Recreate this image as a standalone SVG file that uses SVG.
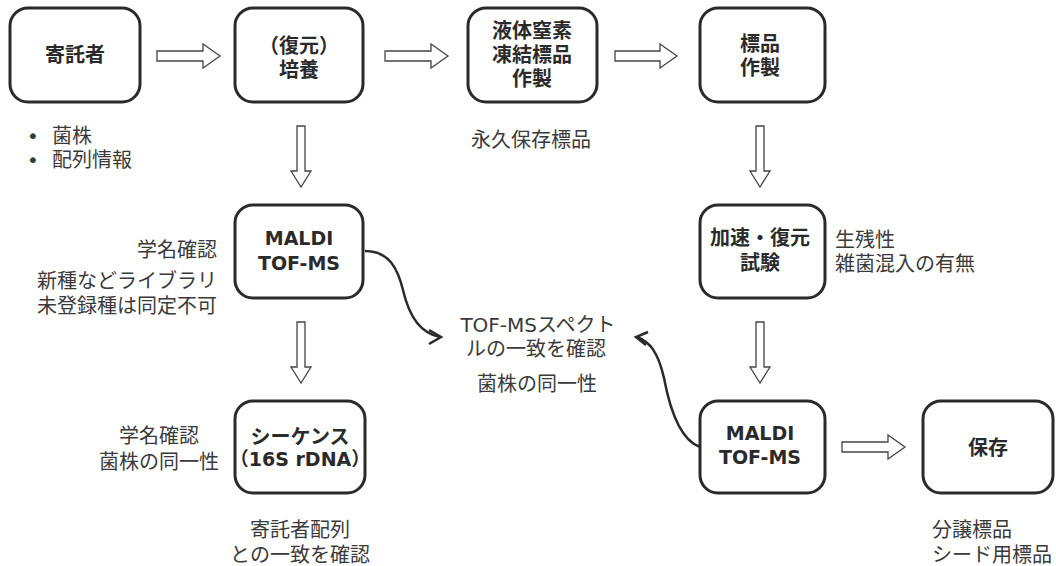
<svg xmlns="http://www.w3.org/2000/svg" width="1056" height="566" viewBox="0 0 1056 566">
<style>
.box{fill:#fff;stroke:#2a2a2a;stroke-width:3}
.lbl{font-family:"DejaVu Sans","Noto Sans CJK JP",sans-serif;font-weight:bold;font-size:20px;fill:#2a2a2a;text-anchor:middle}
.lat{font-size:19px}
.t{font-family:"DejaVu Sans","Noto Sans CJK JP",sans-serif;font-size:20px;fill:#3a3a3a}
.blk{fill:#fff;stroke:#444;stroke-width:1.3}
.cv{fill:none;stroke:#2a2a2a;stroke-width:2.5}
</style>
<rect width="1056" height="566" fill="#fff"/>
<g id="connectors">
<polygon class="blk" points="157,51 203,51 203,44 220,56 203,68 203,61 157,61"/>
<polygon class="blk" points="385,51 431,51 431,44 448,56 431,68 431,61 385,61"/>
<polygon class="blk" points="615,51 660,51 660,44 677,56 660,68 660,61 615,61"/>
<polygon class="blk" points="842,442 888,442 888,435 905,447 888,459 888,452 842,452"/>
<polygon class="blk" points="297,126 305,126 305,171 311,171 301,187 291,171 297,171"/>
<polygon class="blk" points="297,322 305,322 305,367 311,367 301,383 291,367 297,367"/>
<polygon class="blk" points="756,126 764,126 764,171 770,171 760,187 750,171 756,171"/>
<polygon class="blk" points="756,322 764,322 764,367 770,367 760,383 750,367 756,367"/>
<path class="cv" d="M365,251 C390,251 398,270 403,290 C408,312 418,333 440,337"/>
<polyline class="cv" points="429,330 441,337 429,344"/>
<path class="cv" d="M700,447 C680,440 670,410 664,378 C658,352 650,342 637,337"/>
<polyline class="cv" points="648,332 636,337 646,345"/>
</g>
<g id="n1"><rect class="box" x="10" y="8" width="130" height="94" rx="18"/><text class="lbl" x="75" y="62">寄託者</text></g>
<g id="n2"><rect class="box" x="235" y="8" width="128" height="94" rx="18"/><text class="lbl" x="299" y="53">（復元）</text><text class="lbl" x="299" y="77">培養</text></g>
<g id="n3"><rect class="box" x="468" y="8" width="129" height="94" rx="18"/><text class="lbl" x="532" y="38">液体窒素</text><text class="lbl" x="532" y="62">凍結標品</text><text class="lbl" x="532" y="86">作製</text></g>
<g id="n4"><rect class="box" x="700" y="8" width="125" height="94" rx="18"/><text class="lbl" x="760" y="51">標品</text><text class="lbl" x="760" y="75">作製</text></g>
<g id="n5"><rect class="box" x="235" y="205" width="128" height="93" rx="18"/><text class="lbl lat" x="299" y="245">MALDI</text><text class="lbl lat" x="299" y="270">TOF-MS</text></g>
<g id="n6"><rect class="box" x="700" y="205" width="125" height="93" rx="18"/><text class="lbl" x="760" y="245">加速・復元</text><text class="lbl" x="760" y="270">試験</text></g>
<g id="n7"><rect class="box" x="235" y="401" width="130" height="92" rx="18"/><text class="lbl" x="300" y="444">シーケンス</text><text class="lbl lat" x="300" y="466">（16S rDNA）</text></g>
<g id="n8"><rect class="box" x="700" y="401" width="125" height="92" rx="18"/><text class="lbl lat" x="760" y="440">MALDI</text><text class="lbl lat" x="760" y="464">TOF-MS</text></g>
<g id="n9"><rect class="box" x="923" y="401" width="130" height="92" rx="18"/><text class="lbl" x="988" y="455">保存</text></g>
<g id="notes">
<text class="t" x="27" y="143">•</text><text class="t" x="52" y="143">菌株</text>
<text class="t" x="27" y="167">•</text><text class="t" x="52" y="167">配列情報</text>
<text class="t" x="531" y="147" text-anchor="middle">永久保存標品</text>
<text class="t" x="217" y="257" text-anchor="end">学名確認</text>
<text class="t" x="217" y="288" text-anchor="end">新種などライブラリ</text>
<text class="t" x="217" y="313" text-anchor="end">未登録種は同定不可</text>
<text class="t" x="835" y="247">生残性</text>
<text class="t" x="835" y="271">雑菌混入の有無</text>
<text class="t" x="538" y="332" text-anchor="middle">TOF-MSスペクト</text>
<text class="t" x="536" y="356" text-anchor="middle">ルの一致を確認</text>
<text class="t" x="537" y="391" text-anchor="middle">菌株の同一性</text>
<text class="t" x="159" y="443" text-anchor="middle">学名確認</text>
<text class="t" x="159" y="469" text-anchor="middle">菌株の同一性</text>
<text class="t" x="300" y="537" text-anchor="middle">寄託者配列</text>
<text class="t" x="300" y="562" text-anchor="middle">との一致を確認</text>
<text class="t" x="932" y="537">分譲標品</text>
<text class="t" x="932" y="562">シード用標品</text>
</g>
</svg>
